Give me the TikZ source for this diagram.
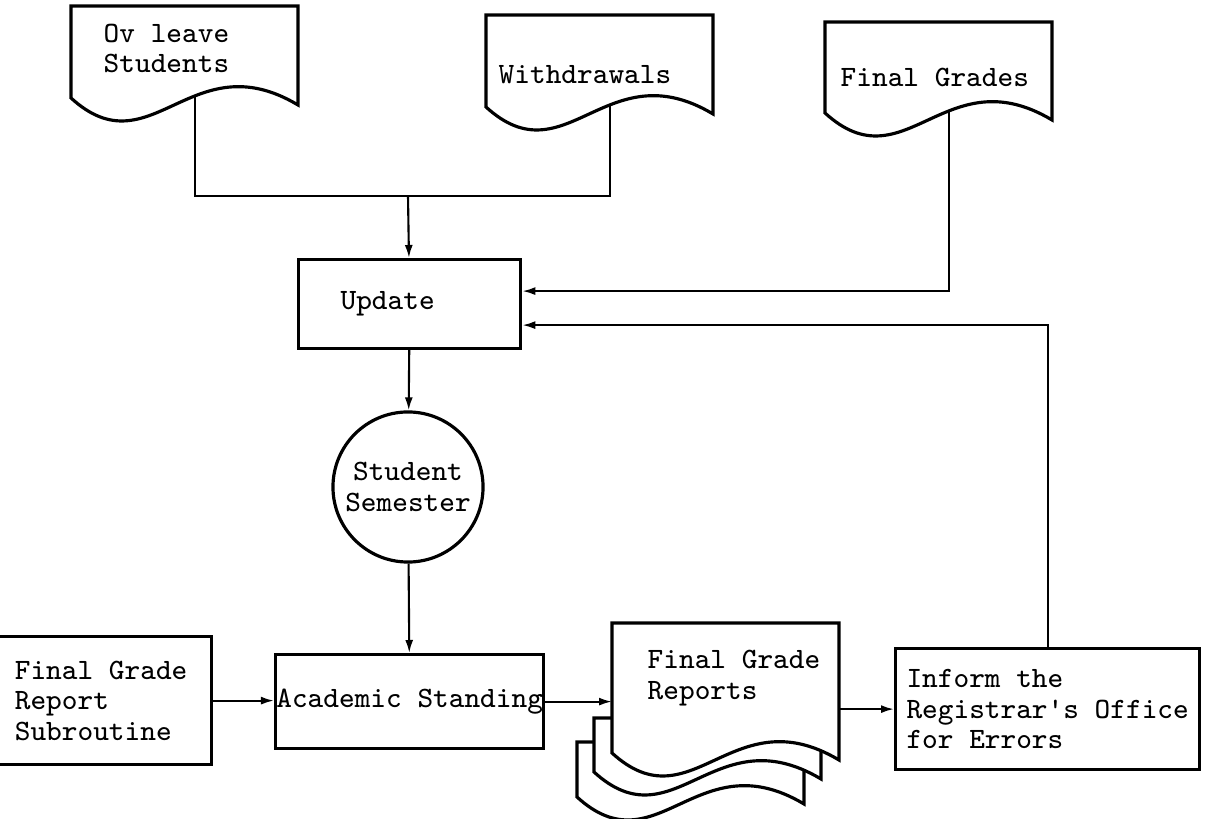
\documentclass[tikz,border=0pt]{standalone}
\usepackage{fontspec}
\usetikzlibrary{arrows.meta}

\begin{document}
\begin{tikzpicture}[
        x=0.01cm, y=-0.01cm,
        every node/.style={font=\fontsize{8.4}{8.7}\selectfont\ttfamily, inner sep=0pt},
        box/.style={draw, line width=0.9pt, rectangle, anchor=north west, align=left},
        txt/.style={anchor=base west, align=left},
        line/.style={line width=0.6pt},
        arrow/.style={line width=0.6pt, -{Latex[length=1.3mm, width=0.8mm]}},
        pics/docsheet/.style={code={
            \draw[line width=0.9pt, fill=white] (0,#1) -- (0,0) coordinate (-nw) -- (227,0) coordinate (-ne)
                -- (227,#1+7) .. controls +(-107,-64) and +(80,73) .. (0,#1) coordinate[pos=0.4] (-w) -- cycle;
        }}
    ]

    \fill[white] (0,0) rectangle (1206,819);
    \useasboundingbox (0,0) rectangle (1206,819);

    % sheets first so the text sits on top
    \pic (ov) at (71,6) {docsheet=92};
    \pic (wd) at (486,15) {docsheet=92};
    \pic (fg) at (825,22) {docsheet=91};
    \pic (fgb) at (577,742) {docsheet=55};
    \pic (fgm) at (594,718) {docsheet=54};
    \pic (fgr) at (612,623) {docsheet=130};

    % base of a two line text is its last line
    \node[txt] (ovt) at (103,73) {Ov leave\\Students};
    \node[txt] (wdt) at (498,84) {Withdrawals};
    \node[txt] (fgt) at (840,87) {Final Grades};
    \node[txt] (rep) at (647,699) {Final Grade\\Reports};

    \node[box, minimum width=2.22cm, minimum height=0.89cm, text width=1.38cm] (upd) at (297,258) {Update};
    \node[draw, circle, line width=0.9pt, minimum size=1.5cm, align=center] (sem) at (408,487) {Student\\Semester};
    \node[box, minimum width=2.68cm, minimum height=0.94cm] (acs) at (274,653) {Academic Standing};
    \node[box, minimum width=2.21cm, minimum height=1.28cm] (sub) at (-11,635) {Final Grade\\Report\\Subroutine};
    \node[box, minimum width=3.04cm, minimum height=1.21cm] (inf) at (894,647) {Inform the\\Registrar's Office\\for Errors};

    \coordinate (join) at (408,196);

    \draw[line] (ov-w) |- (join) -| (wd-w);
    \draw[arrow] (join) -- (upd);
    \draw[arrow] (fg-w) |- ([yshift=0.13cm]upd.east);
    \draw[arrow] (inf) |- ([yshift=-0.21cm]upd.east);
    \draw[arrow] (upd) -- (sem);
    \draw[arrow] (sem) -- (acs);
    \draw[arrow] (sub.east) -- (sub.east -| acs.west);
    \draw[arrow] (acs.east) -- (acs.east -| fgr-nw);
    \draw[arrow] (fgr-ne |- inf.west) -- (inf.west);
\end{tikzpicture}
\end{document}
